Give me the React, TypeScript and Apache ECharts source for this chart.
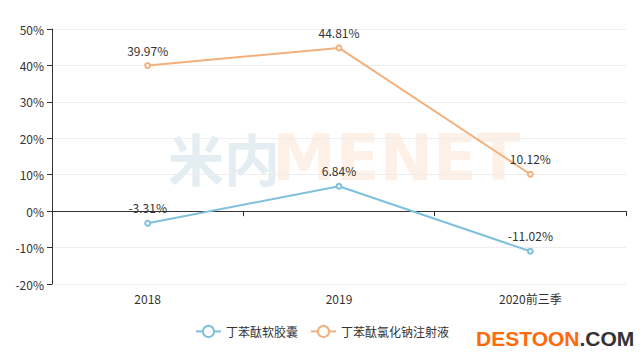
import React, { useEffect, useRef } from "react";
import * as echarts from "echarts";

const categories = ["2018", "2019", "2020前三季"];
const seriesNames = ["丁苯酞软胶囊", "丁苯酞氯化钠注射液"];
const capsuleValues = [-3.31, 6.84, -11.02];
const injectionValues = [39.97, 44.81, 10.12];

export default function App() {
  const ref = useRef<HTMLDivElement>(null);
  useEffect(() => {
    const chart = echarts.init(ref.current!, null, { renderer: "svg" });
    const font = "'Noto Sans CJK SC', 'Noto Sans', sans-serif";
    chart.setOption({
      animation: false,
      textStyle: { fontFamily: font },
      grid: { left: 52, right: 18, top: 29, bottom: 77, outerBoundsMode: "none" },
      legend: {
        bottom: 18,
        left: "center",
        itemWidth: 25,
        itemHeight: 14,
        itemGap: 12,
        textStyle: { color: "#333", fontSize: 12, fontFamily: font },
        data: seriesNames,
      },
      graphic: [
        {
          type: "text",
          left: 168,
          top: 128,
          z: -1,
          silent: true,
          style: {
            text: "米内",
            font: "bold 56px 'Noto Sans CJK SC', sans-serif",
            fill: "#e4eef2",
          },
        },
        {
          type: "text",
          left: 272,
          top: 126,
          z: -1,
          silent: true,
          style: {
            text: "MENET",
            font: "bold 64px 'DejaVu Sans', sans-serif",
            fill: "#fdf1e7",
          },
        },
        {
          type: "text",
          x: 476,
          y: 338,
          style: {
            text: "{a|DESTOON}{b|.COM}",
            verticalAlign: "middle",
            rich: {
              a: { font: "bold 21px 'Liberation Sans', sans-serif", fill: "#ff6a0a" },
              b: { font: "bold 21px 'Liberation Sans', sans-serif", fill: "#333" },
            },
          },
        },
      ],
      xAxis: {
        type: "category",
        data: categories,
        boundaryGap: true,
        axisLine: { onZero: true, lineStyle: { color: "#333" } },
        axisTick: { show: true, alignWithLabel: false },
        axisLabel: { color: "#333", fontSize: 12, margin: 8 },
        splitLine: { show: false },
      },
      yAxis: {
        type: "value",
        min: -20,
        max: 50,
        interval: 10,
        axisLine: { show: true, lineStyle: { color: "#333" } },
        axisTick: { show: true },
        axisLabel: { color: "#333", fontSize: 12, formatter: "{value}%" },
        splitLine: { show: true, lineStyle: { color: "#eee" } },
      },
      series: [
        {
          name: seriesNames[0],
          type: "line",
          data: capsuleValues,
          symbol: "emptyCircle",
          symbolSize: 5,
          itemStyle: { color: "#7fc0dc" },
          lineStyle: { width: 2, color: "#7fc0dc" },
          label: { show: true, position: "top", color: "#333", fontSize: 12, formatter: "{c}%", distance: 6 },
        },
        {
          name: seriesNames[1],
          type: "line",
          data: injectionValues,
          symbol: "emptyCircle",
          symbolSize: 5,
          itemStyle: { color: "#f2b07c" },
          lineStyle: { width: 2, color: "#f2b07c" },
          label: { show: true, position: "top", color: "#333", fontSize: 12, formatter: "{c}%", distance: 6 },
        },
      ],
    });
    return () => chart.dispose();
  }, []);
  return <div ref={ref} style={{ width: 644, height: 361, margin: -8 }} />;
}
